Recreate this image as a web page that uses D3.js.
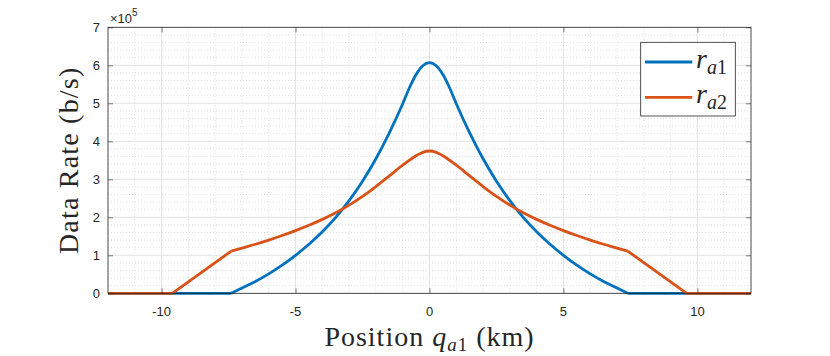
<!DOCTYPE html>
<html>
<head>
<meta charset="utf-8">
<script src="https://cdn.jsdelivr.net/npm/d3@7"></script>
<style>
    body { margin: 0; background: #fff; }
    .tick-label { font-family: "Liberation Sans", Arial, sans-serif; font-size: 13px; fill: #262626; }
    .serif { font-family: "Liberation Serif", "Times New Roman", serif; fill: #262626; }
</style>
</head>
<body>
<div id="chart"></div>
<script>

// ---- data (rates in units of 1e5 b/s) ----
const xTicks = [-10, -5, 0, 5, 10];
const yTicks = [0, 1, 2, 3, 4, 5, 6, 7];

const posA1 = [-12, -7.4, -7, -6.5, -6, -5.5, -5, -4.5, -4, -3.5, -3, -2.5, -2, -1.5, -1, -0.75, -0.5, -0.25, 0,
    0.25, 0.5, 0.75, 1, 1.5, 2, 2.5, 3, 3.5, 4, 4.5, 5, 5.5, 6, 6.5, 7, 7.4, 12];
const rateA1 = [0, 0, 0.14, 0.31, 0.51, 0.74, 1.0, 1.29, 1.62, 2.0, 2.44, 2.95, 3.54, 4.22, 4.99, 5.41, 5.76, 5.99, 6.07,
    5.99, 5.76, 5.41, 4.99, 4.22, 3.54, 2.95, 2.44, 2.0, 1.62, 1.29, 1.0, 0.74, 0.51, 0.31, 0.14, 0, 0];

const posA2 = [-12, -9.6, -7.4, -7, -6.5, -6, -5.5, -5, -4.5, -4, -3.5, -3, -2.5, -2, -1.5, -1, -0.5, -0.25, 0,
    0.25, 0.5, 1, 1.5, 2, 2.5, 3, 3.5, 4, 4.5, 5, 5.5, 6, 6.5, 7, 7.4, 9.6, 12];
const rateA2 = [0, 0, 1.11, 1.19, 1.29, 1.40, 1.52, 1.65, 1.79, 1.945, 2.12, 2.32, 2.55, 2.81, 3.09, 3.37, 3.62, 3.71, 3.745,
    3.71, 3.62, 3.37, 3.09, 2.81, 2.55, 2.32, 2.12, 1.945, 1.79, 1.65, 1.52, 1.40, 1.29, 1.19, 1.11, 0, 0];

// outside |x| > knee the curves are straight pieces
const knee = 7.4;

const series = [
    {name: "a1", x: posA1, y: rateA1, color: "#0072BD"},
    {name: "a2", x: posA2, y: rateA2, color: "#D95319"}
];

// ---- layout ----
const W = 830, H = 356;
const margin = {top: 27.3, right: 79, bottom: 62.7, left: 108};
const width = W - margin.left - margin.right;
const height = H - margin.top - margin.bottom;

const svg = d3.select("#chart").append("svg")
    .attr("width", W)
    .attr("height", H);

const g = svg.append("g")
    .attr("transform", `translate(${margin.left},${margin.top})`);

const x = d3.scaleLinear().domain([-12, 12]).range([0, width]);
const y = d3.scaleLinear().domain([0, 7]).range([height, 0]);

// minor grid
const xMinor = d3.range(-12, 12.001, 1).filter(v => v % 5 !== 0);
const yMinor = d3.range(0, 7.001, 0.2).filter(v => Math.abs(v - Math.round(v)) > 1e-6);

g.selectAll(".xminor").data(xMinor).enter().append("line")
    .attr("x1", d => x(d)).attr("x2", d => x(d))
    .attr("y1", 0).attr("y2", height)
    .attr("stroke", "#d6d6d6").attr("stroke-width", 0.8)
    .attr("stroke-dasharray", "1,2");

g.selectAll(".yminor").data(yMinor).enter().append("line")
    .attr("x1", 0).attr("x2", width)
    .attr("y1", d => y(d)).attr("y2", d => y(d))
    .attr("stroke", "#d6d6d6").attr("stroke-width", 0.8)
    .attr("stroke-dasharray", "1,2");

// major grid
g.selectAll(".xmajor").data(xTicks).enter().append("line")
    .attr("x1", d => x(d)).attr("x2", d => x(d))
    .attr("y1", 0).attr("y2", height)
    .attr("stroke", "#e3e3e3").attr("stroke-width", 1);

g.selectAll(".ymajor").data(yTicks).enter().append("line")
    .attr("x1", 0).attr("x2", width)
    .attr("y1", d => y(d)).attr("y2", d => y(d))
    .attr("stroke", "#e3e3e3").attr("stroke-width", 1);

// curves: straight outer pieces + smooth middle
const lineLin = d3.line().x(d => x(d[0])).y(d => y(d[1]));
const lineSmooth = d3.line().x(d => x(d[0])).y(d => y(d[1])).curve(d3.curveMonotoneX);

series.forEach(s => {
    let pts = s.x.map((v, i) => [v, s.y[i]]);
    let left = pts.filter(p => p[0] <= -knee);
    let mid = pts.filter(p => Math.abs(p[0]) <= knee);
    let right = pts.filter(p => p[0] >= knee);

    [[left, lineLin], [mid, lineSmooth], [right, lineLin]].forEach(([part, gen]) => {
        g.append("path")
            .attr("d", gen(part))
            .attr("fill", "none")
            .attr("stroke", s.color)
            .attr("stroke-width", 2.8)
            .attr("stroke-linejoin", "round");
    });
});

// box + ticks (inward, on all sides)
const axisColor = "#262626";
const xAxis = d3.axisBottom(x).tickValues(xTicks).tickSize(-5).tickFormat("");
const xAxisTop = d3.axisTop(x).tickValues(xTicks).tickSize(-5).tickFormat("");
const yAxis = d3.axisLeft(y).tickValues(yTicks).tickSize(-5).tickFormat("");
const yAxisRight = d3.axisRight(y).tickValues(yTicks).tickSize(-5).tickFormat("");

[[xAxis, `translate(0,${height})`], [xAxisTop, null], [yAxis, null], [yAxisRight, `translate(${width},0)`]]
    .forEach(([ax, tr]) => {
        let a = g.append("g").call(ax);
        if (tr) a.attr("transform", tr);
        a.select(".domain").remove();
        a.selectAll("line").attr("stroke", axisColor).attr("stroke-width", 0.6);
    });

g.append("rect")
    .attr("width", width).attr("height", height)
    .attr("fill", "none")
    .attr("stroke", axisColor)
    .attr("stroke-width", 0.8);

// tick labels
g.selectAll(".xlab").data(xTicks).enter().append("text")
    .attr("class", "tick-label")
    .attr("x", d => x(d))
    .attr("y", height + 23)
    .attr("text-anchor", "middle")
    .text(d => d);

g.selectAll(".ylab").data(yTicks).enter().append("text")
    .attr("class", "tick-label")
    .attr("x", -8)
    .attr("y", d => y(d) + 4.8)
    .attr("text-anchor", "end")
    .text(d => d);

// exponent
let expo = g.append("text").attr("class", "tick-label").attr("x", 2).attr("y", -4);
expo.append("tspan").text("\u00d710");
expo.append("tspan").attr("dy", -7).style("font-size", "10px").text("5");

// axis titles
let xt = svg.append("text")
    .attr("class", "serif")
    .attr("x", margin.left + width / 2)
    .attr("y", 346)
    .attr("text-anchor", "middle")
    .style("font-size", "28px")
    .style("letter-spacing", "1px");
xt.append("tspan").text("Position ");
xt.append("tspan").style("font-style", "italic").text("q");
xt.append("tspan").attr("dy", 5).style("font-size", "19px").style("font-style", "italic").text("a");
xt.append("tspan").style("font-size", "19px").text("1");
xt.append("tspan").attr("dy", -5).text(" (km)");

svg.append("text")
    .attr("class", "serif")
    .attr("transform", `translate(78,${margin.top + height / 2}) rotate(-90)`)
    .attr("text-anchor", "middle")
    .style("font-size", "28px")
    .style("letter-spacing", "1.2px")
    .text("Data Rate (b/s)");

// legend
const lx = 640.7, ly = 42.3, lw = 94.6, lh = 73.7;
svg.append("rect")
    .attr("x", lx).attr("y", ly).attr("width", lw).attr("height", lh)
    .attr("fill", "#fff")
    .attr("stroke", axisColor)
    .attr("stroke-width", 0.8);

series.forEach((s, i) => {
    let cy = 62 + i * 35.3;
    svg.append("line")
        .attr("x1", 645).attr("x2", 692.3)
        .attr("y1", cy).attr("y2", cy)
        .attr("stroke", s.color)
        .attr("stroke-width", 2.8);
    let t = svg.append("text")
        .attr("class", "serif")
        .attr("x", 696)
        .attr("y", cy + 5.5)
        .style("font-size", "28px");
    t.append("tspan").style("font-style", "italic").text("r");
    t.append("tspan").attr("dy", 6).style("font-size", "20px").style("font-style", "italic").text(s.name[0]);
    t.append("tspan").style("font-size", "20px").text(s.name[1]);
});

</script>
</body>
</html>
